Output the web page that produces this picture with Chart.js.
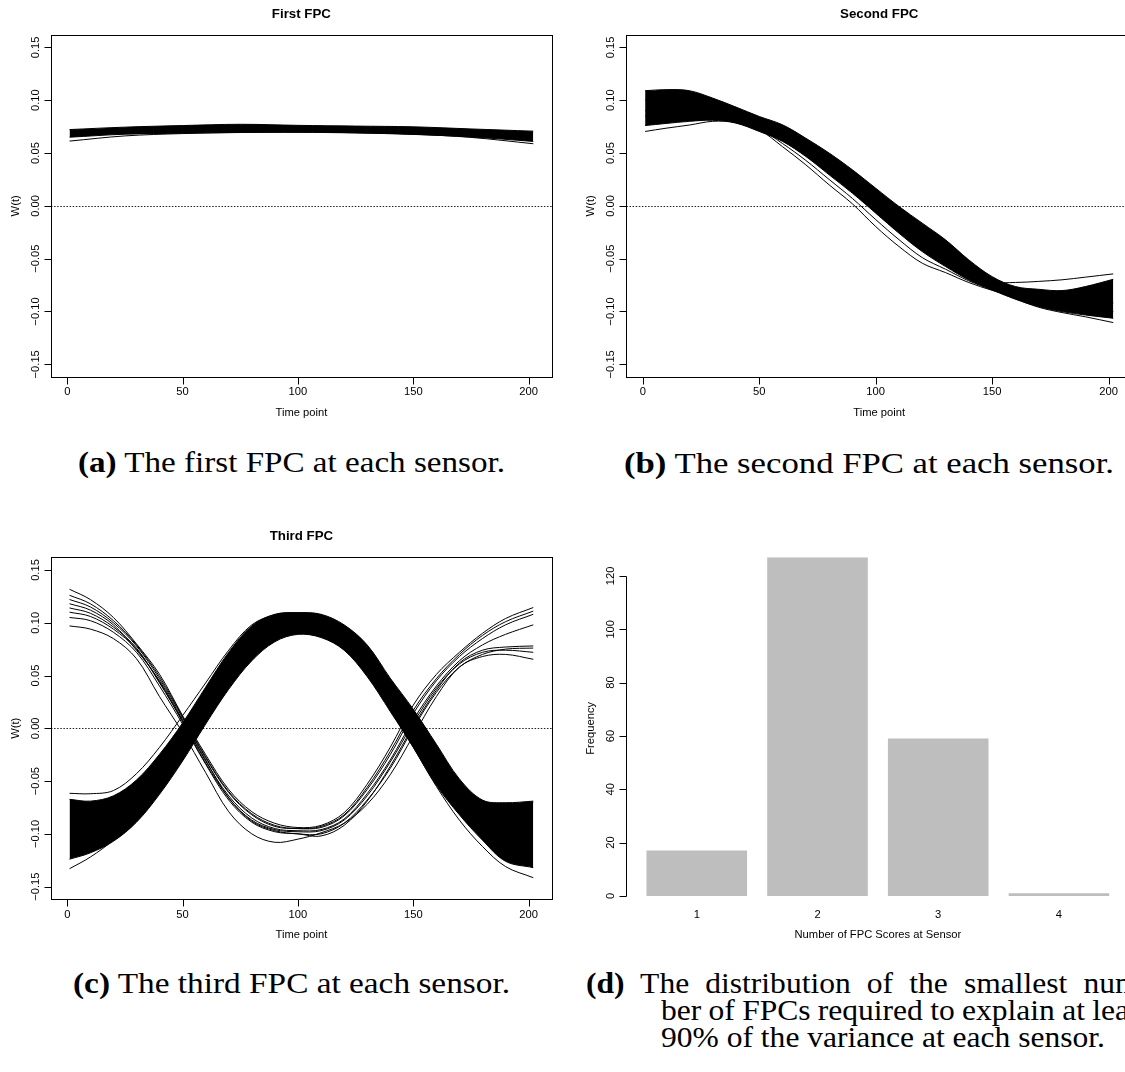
<!DOCTYPE html>
<html>
<head>
<meta charset="utf-8">
<script src="https://cdn.jsdelivr.net/npm/chart.js@4.4.1/dist/chart.umd.min.js"></script>
<style>
  html, body { margin: 0; padding: 0; background: #fff; }
  body { width: 1125px; height: 1072px; overflow: hidden; position: relative; }
  canvas { position: absolute; }
  .cap { position: absolute; white-space: pre; font-family: "Liberation Serif", "Times New Roman", Times, serif;
         font-size: 29.5px; line-height: 29.5px; color: #000; transform-origin: 0 0; }
  .cap b { font-weight: bold; }
</style>
</head>
<body>
<canvas id="cA" width="562" height="440" style="left:0px;top:0px"></canvas>
<canvas id="cB" width="580" height="440" style="left:562px;top:0px"></canvas>
<canvas id="cC" width="562" height="440" style="left:0px;top:520px"></canvas>
<canvas id="cD" width="580" height="440" style="left:562px;top:520px"></canvas>

<div class="cap" id="capA"><b>(a)</b> The first FPC at each sensor.</div>
<div class="cap" id="capB"><b>(b)</b> The second FPC at each sensor.</div>
<div class="cap" id="capC"><b>(c)</b> The third FPC at each sensor.</div>
<div class="cap" id="capD1"><b>(d)</b> The distribution of the smallest num-</div>
<div class="cap" id="capD2">ber of FPCs required to explain at least</div>
<div class="cap" id="capD3">90% of the variance at each sensor.</div>

<script>
// ---------------- data ----------------
const titles = ['First FPC', 'Second FPC', 'Third FPC'];
const xTicks = [0, 50, 100, 150, 200];
const xTickLabels = ['0', '50', '100', '150', '200'];
const yTicks = [-0.15, -0.10, -0.05, 0.00, 0.05, 0.10, 0.15];
const yTickLabels = ['\u22120.15', '\u22120.10', '\u22120.05', '0.00', '0.05', '0.10', '0.15'];

// time points at which the curves were read
const tCoarse = [1, 25, 50, 75, 100, 125, 150, 175, 202];
const tFine = [1, 10, 20, 30, 40, 50, 60, 70, 80, 90, 100, 110, 120, 130, 140, 150, 160, 170, 180, 190, 202];

// First FPC: dense band (upper / lower edge) and lowest curve
const fpc1Upper = [0.0722, 0.0745, 0.0760, 0.0772, 0.0762, 0.0755, 0.0748, 0.0728, 0.0707];
const fpc1Lower = [0.0650, 0.0678, 0.0688, 0.0695, 0.0696, 0.0690, 0.0676, 0.0652, 0.0610];
const fpc1Low   = [0.0613, 0.0662, 0.0684, 0.0694, 0.0698, 0.0692, 0.0678, 0.0648, 0.0588];

// Second FPC
const fpc2Upper = [0.109, 0.110, 0.109, 0.102, 0.0935, 0.0846, 0.0767, 0.064, 0.050, 0.0341, 0.0167, -0.0006, -0.0164, -0.0322, -0.0512, -0.067, -0.0764, -0.079, -0.0802, -0.0764, -0.0695];
const fpc2Lower = [0.076, 0.078, 0.080, 0.081, 0.0783, 0.0704, 0.061, 0.0467, 0.0294, 0.012, -0.0069, -0.0259, -0.0433, -0.0575, -0.0701, -0.0796, -0.0884, -0.0954, -0.1001, -0.1033, -0.1064];
const fpc2LowA  = [0.0704, 0.0735, 0.0765, 0.080, 0.079, 0.072, 0.056, 0.0388, 0.0199, 0.0019, -0.0196, -0.0385, -0.0543, -0.0632, -0.0726, -0.080, -0.086, -0.090, -0.094, -0.097, -0.100];
const fpc2LowB  = [0.085, 0.088, 0.090, 0.088, 0.081, 0.073, 0.059, 0.043, 0.025, 0.007, -0.013, -0.032, -0.049, -0.060, -0.071, -0.079, -0.083, -0.086, -0.088, -0.090, -0.092];
const fpc2HighEnd = [0.100, 0.101, 0.100, 0.095, 0.088, 0.080, 0.071, 0.058, 0.043, 0.027, 0.009, -0.010, -0.027, -0.044, -0.060, -0.0717, -0.0725, -0.0715, -0.0700, -0.0675, -0.0644];
const fpc2LowEnd  = [0.090, 0.092, 0.093, 0.090, 0.084, 0.076, 0.066, 0.052, 0.036, 0.018, -0.002, -0.021, -0.039, -0.055, -0.068, -0.079, -0.088, -0.096, -0.101, -0.105, -0.1105];

// Third FPC: majority band
const fpc3Upper = [-0.0673, -0.0690, -0.0640, -0.0490, -0.0246, 0.0050, 0.0390, 0.0720, 0.0970, 0.1080, 0.1096, 0.1080, 0.0980, 0.0790, 0.0475, 0.0180, -0.0150, -0.0480, -0.0680, -0.0705, -0.0690];
const fpc3Lower = [-0.124, -0.118, -0.107, -0.089, -0.0625, -0.031, 0.004, 0.037, 0.064, 0.082, 0.089, 0.086, 0.074, 0.049, 0.016, -0.018, -0.054, -0.082, -0.106, -0.126, -0.132];
const fpc3TopStart = [-0.0616, -0.0620, -0.0590, -0.0430, -0.0180, 0.0120, 0.0430, 0.0740, 0.0980, 0.1075, 0.1090, 0.1070, 0.0960, 0.0760, 0.0450, 0.0130, -0.0200, -0.0500, -0.0690, -0.0720, -0.0700];
const fpc3LowEnd   = [-0.133, -0.122, -0.106, -0.086, -0.058, -0.027, 0.006, 0.039, 0.066, 0.084, 0.091, 0.088, 0.076, 0.052, 0.018, -0.018, -0.055, -0.087, -0.112, -0.131, -0.1415];
// Third FPC: minority curves (opposite sign)
const fpc3MinTop  = [0.1317, 0.122, 0.105, 0.080, 0.0512, 0.012, -0.025, -0.058, -0.079, -0.090, -0.094, -0.092, -0.080, -0.053, -0.018, 0.022, 0.051, 0.072, 0.090, 0.104, 0.1144];
const fpc3MinMid1 = [0.122, 0.115, 0.100, 0.078, 0.047, 0.010, -0.028, -0.061, -0.082, -0.093, -0.095, -0.094, -0.083, -0.058, -0.025, 0.014, 0.045, 0.068, 0.085, 0.098, 0.108];
const fpc3MinMid2 = [0.114, 0.109, 0.096, 0.076, 0.043, 0.007, -0.031, -0.064, -0.085, -0.095, -0.097, -0.096, -0.086, -0.062, -0.030, 0.008, 0.040, 0.064, 0.079, 0.089, 0.098];
const fpc3MinMid3 = [0.118, 0.112, 0.098, 0.074, 0.045, 0.008, -0.030, -0.066, -0.087, -0.096, -0.098, -0.097, -0.087, -0.064, -0.032, 0.005, 0.038, 0.061, 0.072, 0.074, 0.072];
const fpc3MinMid4 = [0.105, 0.102, 0.091, 0.072, 0.040, 0.004, -0.034, -0.068, -0.089, -0.098, -0.100, -0.102, -0.092, -0.069, -0.036, 0.002, 0.036, 0.062, 0.074, 0.077, 0.078];
const fpc3MinMid5 = [0.110, 0.106, 0.094, 0.075, 0.044, 0.006, -0.033, -0.066, -0.088, -0.097, -0.100, -0.100, -0.090, -0.068, -0.038, 0.000, 0.034, 0.058, 0.070, 0.075, 0.076];
const fpc3MinMid6 = [0.126, 0.118, 0.102, 0.079, 0.049, 0.011, -0.027, -0.060, -0.081, -0.092, -0.095, -0.093, -0.082, -0.056, -0.022, 0.017, 0.047, 0.070, 0.088, 0.101, 0.111];
const fpc3MinBottom = [0.097, 0.094, 0.085, 0.066, 0.030, -0.004, -0.042, -0.079, -0.100, -0.108, -0.105, -0.099, -0.090, -0.072, -0.044, -0.007, 0.030, 0.058, 0.068, 0.070, 0.0654];

// Panel (d)
const categories = ['1', '2', '3', '4'];
const frequency = [17, 127, 59, 1];
const freqTicks = [0, 20, 40, 60, 80, 100, 120];
const freqTickLabels = ['0', '20', '40', '60', '80', '100', '120'];

// ---------------- helpers ----------------
const SANS = '"Liberation Sans", Arial, Helvetica, sans-serif';
const pts = (t, v) => t.map((x, i) => ({ x: x, y: v[i] }));
const lineDS = (t, v) => ({ data: pts(t, v), fill: false });
const bandDS = (t, up, lo) => [
  { data: pts(t, up), fill: '+1', backgroundColor: '#000' },
  { data: pts(t, lo), fill: false }
];

function rPlot(cfg) {
  return {
    id: 'rplot',
    beforeDatasetsDraw(chart) {
      if (!cfg.zeroLine) return;
      const ctx = chart.ctx, a = chart.chartArea;
      const y = Math.round(chart.scales.y.getPixelForValue(0)) + 0.5;
      ctx.save();
      ctx.strokeStyle = '#222'; ctx.lineWidth = 1; ctx.setLineDash([1.5, 1.6]);
      ctx.beginPath(); ctx.moveTo(a.left, y); ctx.lineTo(a.right, y); ctx.stroke();
      ctx.restore();
    },
    afterDraw(chart) {
      const ctx = chart.ctx, a = chart.chartArea, xs = chart.scales.x, ys = chart.scales.y;
      const axisX = Math.round(a.left - (cfg.yAxisGap || 0)) + 0.5;
      const bottom = Math.round(a.bottom) + 0.5;
      ctx.save();
      ctx.strokeStyle = '#000'; ctx.fillStyle = '#000'; ctx.lineWidth = 1;
      if (cfg.box) {
        ctx.strokeRect(Math.round(a.left) + 0.5, Math.round(a.top) + 0.5,
                       Math.round(a.right - a.left), Math.round(a.bottom - a.top));
      }
      ctx.font = '11.2px ' + SANS;
      ctx.textAlign = 'center'; ctx.textBaseline = 'middle';
      // x axis
      cfg.xTicks.forEach((v, i) => {
        const px = cfg.categorical ? xs.getPixelForValue(i) : xs.getPixelForValue(v);
        if (!cfg.categorical) {
          const xx = Math.round(px) + 0.5;
          ctx.beginPath(); ctx.moveTo(xx, bottom); ctx.lineTo(xx, bottom + 7); ctx.stroke();
        }
        ctx.fillText(cfg.xLabels[i], px, a.bottom + 15.3);
      });
      // y axis
      if (cfg.yAxisLine) {
        ctx.beginPath();
        ctx.moveTo(axisX, Math.round(ys.getPixelForValue(cfg.yTicks[0])) + 0.5);
        ctx.lineTo(axisX, Math.round(ys.getPixelForValue(cfg.yTicks[cfg.yTicks.length - 1])) + 0.5);
        ctx.stroke();
      }
      cfg.yTicks.forEach((v, i) => {
        const py = ys.getPixelForValue(v);
        const yy = Math.round(py) + 0.5;
        ctx.beginPath(); ctx.moveTo(axisX, yy); ctx.lineTo(axisX - 7, yy); ctx.stroke();
        ctx.save(); ctx.translate(axisX - 15.3, py); ctx.rotate(-Math.PI / 2);
        ctx.fillText(cfg.yLabels[i], 0, 0); ctx.restore();
      });
      const cx = (a.left + a.right) / 2, cy = (a.top + a.bottom) / 2;
      if (cfg.xTitle) ctx.fillText(cfg.xTitle, cx, a.bottom + 35.5);
      if (cfg.yTitle) {
        ctx.save(); ctx.translate(axisX - 36, cy); ctx.rotate(-Math.PI / 2);
        ctx.fillText(cfg.yTitle, 0, 0); ctx.restore();
      }
      if (cfg.title) {
        ctx.font = 'bold 13.3px ' + SANS;
        ctx.fillText(cfg.title, cx, a.top - 20.5);
      }
      ctx.restore();
    }
  };
}

function baseOptions(padding, xMin, xMax, yMin, yMax) {
  return {
    responsive: false, animation: false, devicePixelRatio: 1,
    layout: { padding: padding },
    plugins: { legend: { display: false }, tooltip: { enabled: false }, title: { display: false } },
    scales: {
      x: { type: 'linear', display: false, min: xMin, max: xMax },
      y: { type: 'linear', display: false, min: yMin, max: yMax }
    },
    elements: {
      point: { radius: 0 },
      line: { borderWidth: 1, borderColor: '#000', tension: 0.35 }
    }
  };
}

const X_MIN = -7.04, X_MAX = 210.04, Y_MIN = -0.162, Y_MAX = 0.162;

function fpcChart(id, title, datasets, padding) {
  new Chart(document.getElementById(id), {
    type: 'line',
    data: { datasets: datasets.map(d => Object.assign({ borderColor: '#000', borderWidth: 1, pointRadius: 0 }, d)) },
    options: baseOptions(padding, X_MIN, X_MAX, Y_MIN, Y_MAX),
    plugins: [rPlot({
      box: true, zeroLine: true, title: title,
      xTicks: xTicks, xLabels: xTickLabels, yTicks: yTicks, yLabels: yTickLabels,
      xTitle: 'Time point', yTitle: 'W(t)'
    })]
  });
}

// Panel (a)
fpcChart('cA', titles[0], [
  ...bandDS(tCoarse, fpc1Upper, fpc1Lower),
  lineDS(tCoarse, fpc1Low)
], { left: 51, top: 34.7, right: 10.2, bottom: 63 });

// Panel (b)
fpcChart('cB', titles[1], [
  ...bandDS(tFine, fpc2Upper, fpc2Lower),
  lineDS(tFine, fpc2LowA), lineDS(tFine, fpc2LowB),
  lineDS(tFine, fpc2HighEnd), lineDS(tFine, fpc2LowEnd)
], { left: 64.4, top: 34.7, right: 10, bottom: 63 });

// Panel (c)
fpcChart('cC', titles[2], [
  ...bandDS(tFine, fpc3Upper, fpc3Lower),
  lineDS(tFine, fpc3TopStart), lineDS(tFine, fpc3LowEnd),
  lineDS(tFine, fpc3MinTop), lineDS(tFine, fpc3MinMid1), lineDS(tFine, fpc3MinMid2),
  lineDS(tFine, fpc3MinMid3), lineDS(tFine, fpc3MinMid4), lineDS(tFine, fpc3MinMid5),
  lineDS(tFine, fpc3MinMid6), lineDS(tFine, fpc3MinBottom)
], { left: 51, top: 37.3, right: 10.2, bottom: 60.7 });

// Panel (d)
new Chart(document.getElementById('cD'), {
  type: 'bar',
  data: {
    labels: categories,
    datasets: [{ data: frequency, backgroundColor: '#bebebe', borderWidth: 0,
                 barPercentage: 1 / 1.2, categoryPercentage: 1 }]
  },
  options: {
    responsive: false, animation: false, devicePixelRatio: 1,
    layout: { padding: { left: 74.4, top: 37.3, right: 22.7, bottom: 60.7 } },
    plugins: { legend: { display: false }, tooltip: { enabled: false }, title: { display: false } },
    scales: {
      x: { type: 'category', display: false, offset: true },
      y: { type: 'linear', display: false, min: -1.27, max: 127 }
    }
  },
  plugins: [rPlot({
    box: false, zeroLine: false, categorical: true, yAxisLine: true, yAxisGap: 10.9,
    xTicks: categories, xLabels: categories, yTicks: freqTicks, yLabels: freqTickLabels,
    xTitle: 'Number of FPC Scores at Sensor', yTitle: 'Frequency'
  })]
});

// ---------------- captions ----------------
const FS = 29.5, BASE_OFF = 0.8375 * FS;
function place(id, x, baseline) {
  const el = document.getElementById(id);
  el.style.left = x + 'px';
  el.style.top = (baseline - BASE_OFF) + 'px';
  return el;
}
function fit(id, x, endX, baseline) {
  const el = place(id, x, baseline);
  const w = el.getBoundingClientRect().width;
  const f = (endX - x) / w;
  el.style.transform = 'scaleX(' + f + ')';
  return f;
}
function justify(id, x, endX, baseline, f) {
  const el = place(id, x, baseline);
  el.style.transform = 'scaleX(' + f + ')';
  const w = el.getBoundingClientRect().width / f;
  const spaces = (el.textContent.match(/ /g) || []).length;
  el.style.wordSpacing = (((endX - x) / f - w) / spaces) + 'px';
}
fit('capA', 78, 505, 473);
fit('capB', 624, 1114, 474);
fit('capC', 73, 510, 994);
const fD = fit('capD3', 661, 1105, 1047.3);
justify('capD1', 586, 1150, 994, fD);
justify('capD2', 661, 1150, 1020.7, fD);
</script>
</body>
</html>
